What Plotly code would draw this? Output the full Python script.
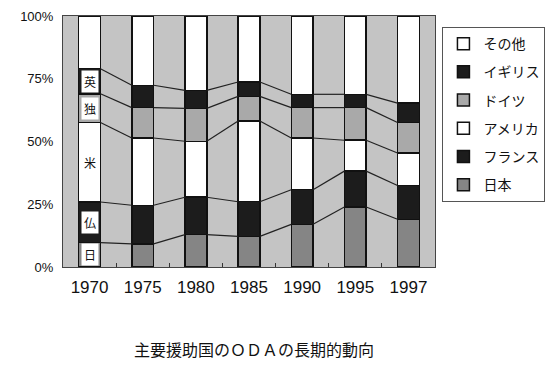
import plotly.graph_objects as go
import numpy as np

years = ["1970", "1975", "1980", "1985", "1990", "1995", "1997"]
japan   = [9.7, 9.2, 12.9, 12.2, 17.0, 23.9, 19.0]
france  = [16.2, 15.4, 14.9, 13.8, 13.8, 14.3, 13.5]
usa     = [31.7, 26.8, 22.3, 32.2, 20.6, 12.3, 12.9]
germany = [11.4, 12.1, 13.1, 9.8, 12.1, 13.0, 12.2]
uk      = [10.0, 8.9, 7.2, 5.7, 5.3, 5.3, 7.7]
others  = [21.0, 27.6, 29.6, 26.3, 31.2, 31.2, 34.7]

series_names = ["日本", "フランス", "アメリカ", "ドイツ", "イギリス", "その他"]
series_vals = [japan, france, usa, germany, uk, others]
short_labels = ["日", "仏", "米", "独", "英", None]
colors = ["#858585", "#1c1c1c", "#ffffff", "#a9a9a9", "#1c1c1c", "#ffffff"]

pct_ticks = [0, 25, 50, 75, 100]
pct_text = ["0%", "25%", "50%", "75%", "100%"]

x = list(range(len(years)))
bar_w = 0.41

fig = go.Figure()
for idx, (name, vals, col) in enumerate(zip(series_names, series_vals, colors)):
    fig.add_trace(go.Bar(
        x=x, y=vals, name=name, width=bar_w,
        marker=dict(color=col, line=dict(color="#111111", width=1.5)),
        legendgroup=name, legendrank=100 - idx,
    ))

# connecting series lines
cum = np.cumsum(np.array(series_vals[:-1]), axis=0)
for k in range(cum.shape[0]):
    xs, ys = [], []
    for i in range(len(x) - 1):
        xs += [x[i] + bar_w / 2, x[i + 1] - bar_w / 2, None]
        ys += [cum[k][i], cum[k][i + 1], None]
    fig.add_trace(go.Scatter(x=xs, y=ys, mode="lines",
                             line=dict(color="#222222", width=1.2),
                             showlegend=False, hoverinfo="skip"))

# labels in first bar
bottom = 0
for lab, vals in zip(short_labels, series_vals):
    mid = bottom + vals[0] / 2
    bottom += vals[0]
    if lab is None:
        continue
    boxed = lab != "米"
    fig.add_annotation(x=x[0], y=mid, text=lab, showarrow=False,
                       font=dict(family="Noto Sans CJK JP", size=12, color="#111111"),
                       bgcolor="#ffffff" if boxed else None,
                       borderpad=2)

fig.update_layout(
    width=556, height=367,
    margin=dict(l=63, r=121, t=16, b=100, autoexpand=False),
    barmode="stack", bargap=1 - bar_w,
    paper_bgcolor="#ffffff", plot_bgcolor="#c4c4c4",
    font=dict(family="Liberation Sans", color="#222222"),
    legend=dict(x=1.02, xanchor="left", y=0.956, yanchor="top",
                traceorder="grouped", tracegroupgap=7, itemwidth=30,
                bordercolor="#555555", borderwidth=1, bgcolor="#ffffff",
                font=dict(family="Noto Sans CJK JP", size=14, color="#111111")),
    showlegend=True,
)
fig.update_xaxes(range=[-0.5, len(years) - 0.5], tickvals=x, ticktext=years,
                 showgrid=False, showline=True, linecolor="#444444", linewidth=1,
                 mirror=True,
                 ticks="outside", ticklen=5, tickcolor="rgba(0,0,0,0)",
                 tickfont=dict(size=17, color="#111111"), zeroline=False,
                 minor=dict(tickvals=[i + 0.5 for i in x[:-1]], ticks="inside",
                            ticklen=4, tickcolor="#333333"))
fig.update_yaxes(range=[0, 100], tickvals=pct_ticks, ticktext=pct_text,
                 showgrid=False, showline=True, linecolor="#444444", linewidth=1,
                 mirror=True,
                 ticks="outside", ticklen=6, tickcolor="rgba(0,0,0,0)",
                 tickfont=dict(size=13, color="#111111"), zeroline=False)

fig.add_annotation(text="主要援助国のＯＤＡの長期的動向", xref="paper", yref="paper",
                   x=(254 - 63) / 372, y=-(349 - 267) / 251, xanchor="center", yanchor="middle",
                   showarrow=False,
                   font=dict(family="Noto Sans CJK JP", size=16, color="#111111"))

fig.write_html("out.html", config={"displayModeBar": False},
               post_script="document.body.style.margin='0';")
